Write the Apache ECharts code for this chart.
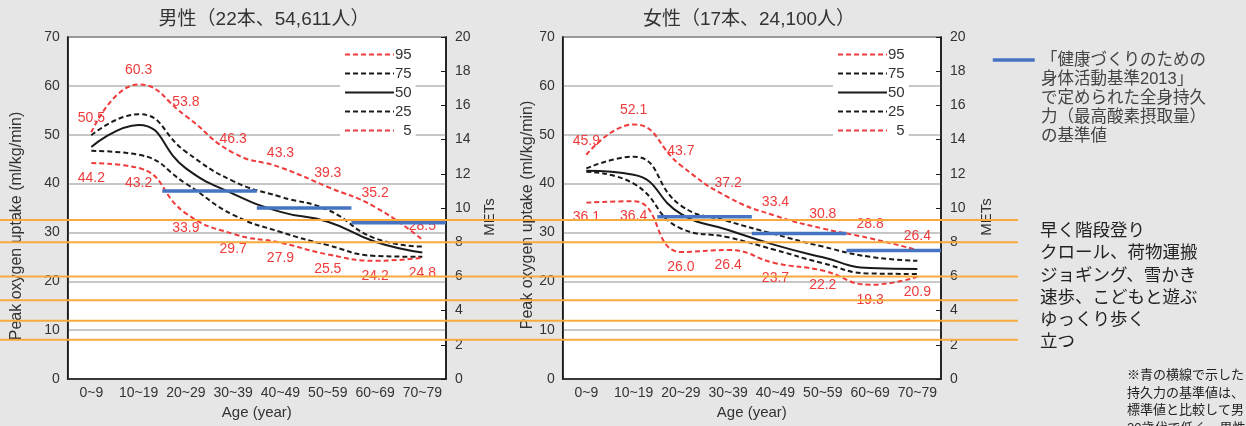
<!DOCTYPE html>
<html>
<head>
<meta charset="utf-8">
<script src="https://cdn.jsdelivr.net/npm/echarts@6/dist/echarts.min.js"></script>
<style>
html,body{margin:0;padding:0;background:#e6e6e6;}
#c{width:1246px;height:426px;}
</style>
</head>
<body>
<div id="c"></div>
<script>
const categories = ['0~9','10~19','20~29','30~39','40~49','50~59','60~69','70~79'];
const percentiles = ['95','75','50','25','5'];

const male95 = [50.5, 60.3, 53.8, 46.3, 43.3, 39.3, 35.2, 28.5];
const male75 = [49.9, 54.2, 46.5, 40.5, 37.3, 34.6, 28.8, 27.1];
const male50 = [47.5, 52.0, 43.1, 37.9, 34.2, 32.2, 28.1, 25.9];
const male25 = [46.7, 45.9, 40.0, 33.6, 30.1, 27.4, 25.2, 25.0];
const male5  = [44.2, 43.2, 33.9, 29.7, 27.9, 25.5, 24.2, 24.8];

const female95 = [45.9, 52.1, 43.7, 37.2, 33.4, 30.8, 28.8, 26.4];
const female75 = [43.1, 45.5, 35.5, 32.3, 29.6, 27.1, 25.0, 24.2];
const female50 = [42.6, 41.8, 33.8, 30.5, 27.4, 24.9, 22.7, 22.5];
const female25 = [42.4, 40.0, 30.8, 29.0, 26.4, 23.7, 21.6, 21.5];
const female5  = [36.1, 36.4, 26.0, 26.4, 23.7, 22.2, 19.3, 20.9];

// standard values (ml/kg/min), spanning category index ranges
const stdStart = [2, 4, 6];
const stdEnd   = [4, 6, 8];
const maleStd   = [38.5, 35.0, 32.0];
const femaleStd = [33.2, 29.8, 26.3];

// activity intensity lines (METs)
const activityMETs = [9.3, 8.0, 6.0, 4.6, 3.4, 2.3];
const activityLabels = ['早く階段登り','クロール、荷物運搬','ジョギング、雪かき','速歩、こどもと遊ぶ','ゆっくり歩く','立つ'];

const maleTitle = '男性（22本、54,611人）';
const femaleTitle = '女性（17本、24,100人）';
const stdLegendText = '「健康づくりのための\n身体活動基準2013」\nで定められた全身持久\n力（最高酸素摂取量）\nの基準値';
const noteText = '※青の横線で示した\n持久力の基準値は、\n標準値と比較して男\n20歳代で低く、男性';

const RED = '#ef3b3b', BLACK = '#1a1a1a', BLUE = '#4673c2', ORANGE = '#f9aa3c', TXT = '#333';
const DASH = [5, 3];

const chart = echarts.init(document.getElementById('c'));

function pctSeries(data, name, gi) {
  const isRed = (name === '95' || name === '5');
  const s = {
    type: 'line', name: name, data: data,
    xAxisIndex: gi, yAxisIndex: gi * 2,
    smooth: 0.5, symbol: 'circle', symbolSize: 0, showSymbol: true, z: 3,
    lineStyle: { color: isRed ? RED : BLACK, width: 2, type: name === '50' ? 'solid' : DASH },
    itemStyle: { color: isRed ? RED : BLACK }
  };
  if (isRed) {
    s.label = {
      show: true, position: name === '95' ? 'top' : 'bottom', distance: name === '95' ? 7 : 8,
      color: RED, fontSize: 14, formatter: p => p.value.toFixed(1)
    };
  }
  return s;
}

const series = [];
const maleSets = [male95, male75, male50, male25, male5];
const femaleSets = [female95, female75, female50, female25, female5];
percentiles.forEach((p, i) => series.push(pctSeries(maleSets[i], p, 0)));
percentiles.forEach((p, i) => series.push(pctSeries(femaleSets[i], p, 1)));

function stdSeries(vals, xi, yi) {
  vals.forEach((v, i) => {
    series.push({
      type: 'line', name: '基準値', xAxisIndex: xi, yAxisIndex: yi, symbol: 'none', z: 5,
      data: [[stdStart[i], v], [stdEnd[i], v]],
      lineStyle: { color: BLUE, width: 3.5 }, itemStyle: { color: BLUE }
    });
  });
}
stdSeries(maleStd, 2, 0);
stdSeries(femaleStd, 3, 2);

activityMETs.forEach(m => {
  series.push({
    type: 'line', name: 'act' + m, xAxisIndex: 4, yAxisIndex: 4, symbol: 'none', z: 10,
    data: [[0, m], [1, m]], lineStyle: { color: ORANGE, width: 2 }, silent: true
  });
});

function catAxis(gi) {
  return {
    gridIndex: gi, type: 'category', data: categories,
    axisLine: { lineStyle: { color: BLACK, width: 1.5 } },
    axisTick: { inside: true, length: 4, lineStyle: { color: BLACK } },
    axisLabel: { interval: 0, color: TXT, fontSize: 14, margin: 7 },
    name: 'Age (year)', nameLocation: 'middle', nameGap: 24,
    nameTextStyle: { color: TXT, fontSize: 15 }
  };
}
function leftAxis(gi, gap, pad) {
  return {
    gridIndex: gi, type: 'value', min: 0, max: 70, interval: 10, position: 'left',
    axisLine: { show: true, lineStyle: { color: BLACK, width: 1.5 } },
    axisTick: { show: false },
    splitLine: { lineStyle: { color: '#b4b4b4', width: 1.5 } },
    axisLabel: { color: TXT, fontSize: 14, margin: 8 },
    name: 'Peak oxygen uptake (ml/kg/min)', nameLocation: 'middle', nameGap: gap,
    nameTextStyle: { color: TXT, fontSize: 16, padding: pad }
  };
}
function metAxis(gi, gap) {
  return {
    gridIndex: gi, type: 'value', min: 0, max: 20, interval: 2, position: 'right',
    axisLine: { show: true, lineStyle: { color: BLACK, width: 1.5 } },
    axisTick: { show: true, inside: true, length: 5, lineStyle: { color: BLACK } },
    splitLine: { show: false },
    axisLabel: { color: TXT, fontSize: 14, margin: 9 },
    name: 'METs', nameLocation: 'middle', nameGap: gap, nameRotate: 90,
    nameTextStyle: { color: TXT, fontSize: 15, padding: [0, 18, 0, 0] }
  };
}

function pctLegend(left) {
  return {
    data: percentiles, left: left, top: 44, orient: 'vertical',
    itemWidth: 49, itemHeight: 14, itemGap: 4, itemStyle: { opacity: 0 },
    backgroundColor: '#fff', padding: [3, 4, 3, 4],
    textStyle: { color: TXT, fontSize: 15, padding: [0, 0, 0, -4] },
    formatter: n => (n.length < 2 ? '  ' + n : n),
    selectedMode: false
  };
}

const option = {
  backgroundColor: '#e6e6e6',
  animation: false,
  textStyle: { fontFamily: "'Liberation Sans', 'Noto Sans CJK JP', sans-serif" },
  title: [
    { text: maleTitle, left: 259, top: 5, textAlign: 'center', textStyle: { fontSize: 19, fontWeight: 'normal', color: TXT } },
    { text: femaleTitle, left: 744, top: 5, textAlign: 'center', textStyle: { fontSize: 19, fontWeight: 'normal', color: TXT } },
    { text: stdLegendText, left: 1036, top: 46, textStyle: { fontSize: 16.5, lineHeight: 19, fontWeight: 'normal', color: '#444' } },
    { text: activityLabels.join('\n'), left: 1035, top: 215, textStyle: { fontSize: 17.5, lineHeight: 22.3, fontWeight: 'normal', color: '#222' } },
    { text: noteText, left: 1122, top: 362, textStyle: { fontSize: 13, lineHeight: 17.5, fontWeight: 'normal', color: '#222' } }
  ],
  legend: [
    pctLegend(340),
    pctLegend(833),
    { data: ['基準値'], left: 986, top: 48, itemWidth: 42, itemHeight: 14, selectedMode: false,
      lineStyle: { width: 3.5 }, itemStyle: { opacity: 0 }, formatter: () => '', textStyle: { fontSize: 1 } }
  ],
  grid: [
    { left: 67.7, top: 37, width: 378.3, height: 342, show: true, backgroundColor: '#fff', borderColor: BLACK, borderWidth: 1.5 },
    { left: 562.7, top: 37, width: 378.3, height: 342, show: true, backgroundColor: '#fff', borderColor: BLACK, borderWidth: 1.5 },
    { left: 0, top: 37, width: 1018, height: 342 }
  ],
  xAxis: [
    catAxis(0), catAxis(1),
    { gridIndex: 0, type: 'value', min: 0, max: 8, show: false },
    { gridIndex: 1, type: 'value', min: 0, max: 8, show: false },
    { gridIndex: 2, type: 'value', min: 0, max: 1, show: false }
  ],
  yAxis: [
    leftAxis(0, 43, [0, 36, 0, 0]), metAxis(0, 36),
    leftAxis(1, 27, [0, 14, 0, 0]), metAxis(1, 38),
    { gridIndex: 2, type: 'value', min: 0, max: 20, show: false }
  ],
  series: series
};
chart.setOption(option);
</script>
</body>
</html>
